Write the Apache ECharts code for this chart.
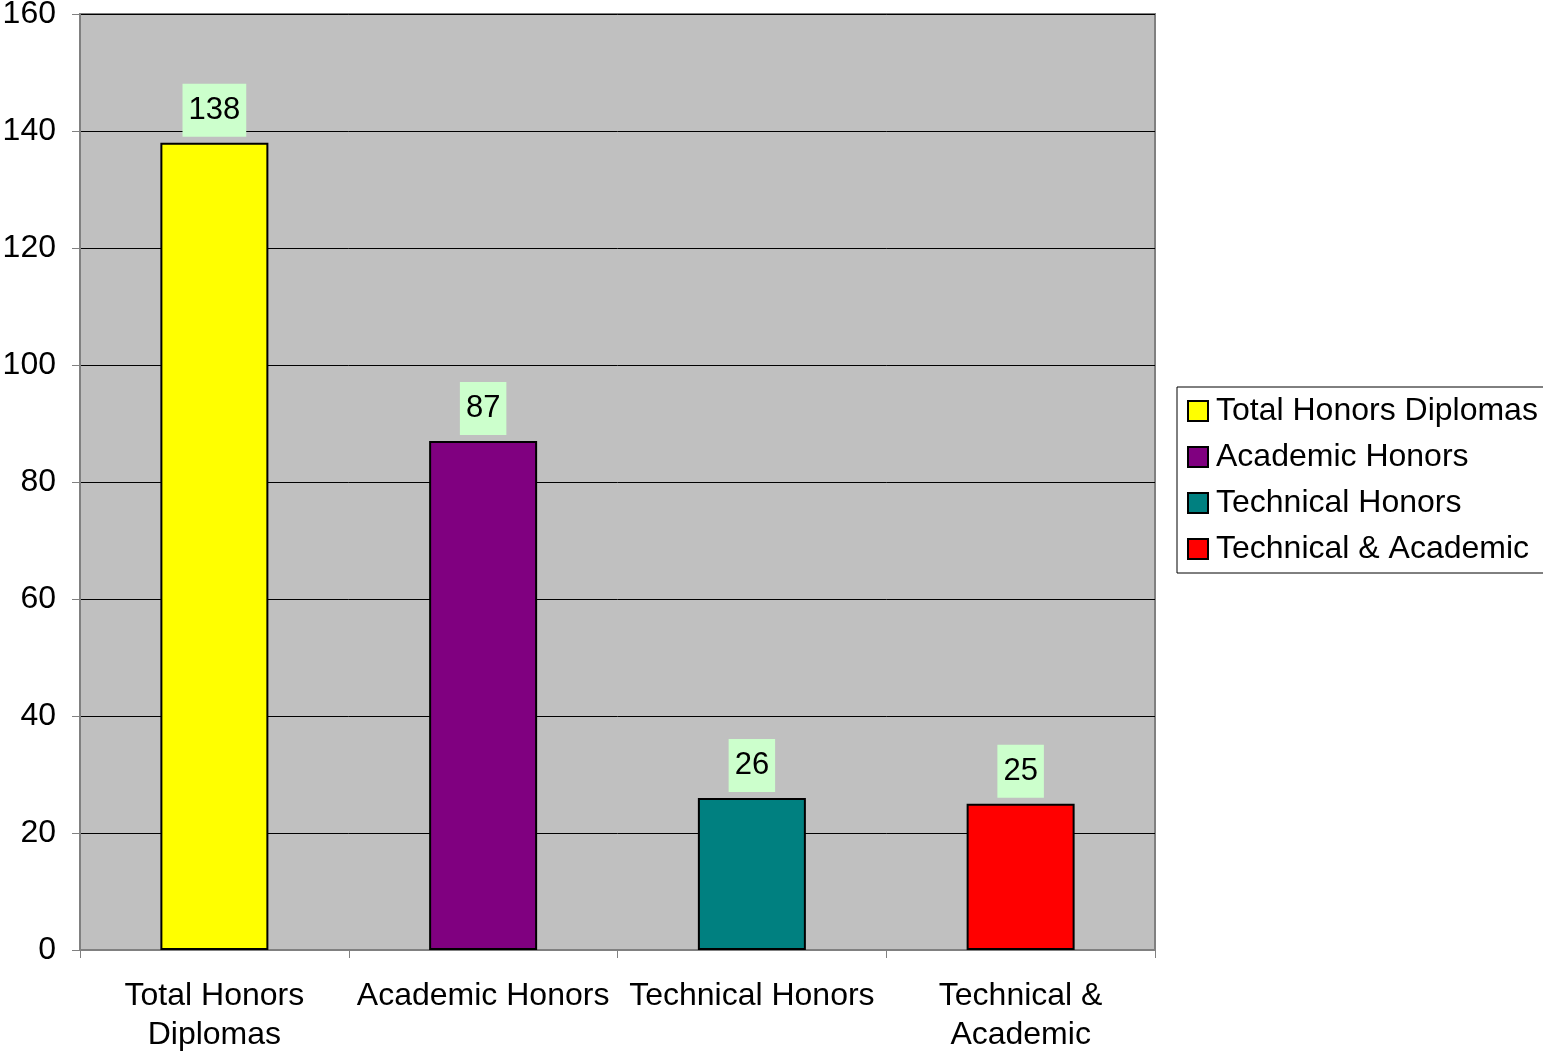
<!DOCTYPE html>
<html>
<head>
<meta charset="utf-8">
<title>Honors Diplomas</title>
<script src="https://cdn.jsdelivr.net/npm/echarts@6/dist/echarts.min.js"></script>
<style>
  html, body { margin: 0; padding: 0; background: #ffffff; overflow: hidden; }
  #chart { width: 1543px; height: 1055px; }
</style>
</head>
<body>
<div id="chart"></div>
<script>
// Categories along the x axis
const categories = ['Total Honors\nDiplomas', 'Academic Honors', 'Technical Honors', 'Technical &\nAcademic'];
// Legend names, one per bar
const seriesNames = ['Total Honors Diplomas', 'Academic Honors', 'Technical Honors', 'Technical & Academic'];
// Diploma counts
const values = [138, 87, 26, 25];
// Bar fills
const colors = ['#FFFF00', '#800080', '#008080', '#FF0000'];
// Y axis range
const yMin = 0, yMax = 160, yStep = 20;

const FONT = '"Liberation Sans", Arial, sans-serif';

const series = seriesNames.map((name, i) => ({
  name: name,
  type: 'bar',
  barWidth: 108,
  barGap: '-100%',
  data: categories.map((c, j) => (j === i ? values[i] : '-')),
  itemStyle: { color: colors[i], borderColor: '#000', borderWidth: 2 },
  label: {
    show: true,
    position: 'top',
    distance: 6,
    color: '#000',
    fontFamily: FONT,
    fontSize: 31,
    lineHeight: 33,
    backgroundColor: '#CCFFCC',
    padding: [10, 6, 10, 6]
  },
  emphasis: { disabled: true }
}));

const chart = echarts.init(document.getElementById('chart'));
chart.setOption({
  animation: false,
  textStyle: { fontFamily: FONT },
  grid: {
    left: 80, top: 14, width: 1075, height: 936,
    outerBoundsMode: 'none', containLabel: false,
    show: true, backgroundColor: '#C0C0C0', borderColor: '#808080', borderWidth: 2
  },
  legend: {
    orient: 'vertical',
    left: 1177, top: 387,
    padding: [8, 40, 8, 10],
    borderColor: '#000', borderWidth: 1,
    backgroundColor: '#fff',
    itemWidth: 20, itemHeight: 20, itemGap: 14,
    icon: 'rect',
    itemStyle: { borderColor: '#000', borderWidth: 2 },
    textStyle: { fontSize: 32, lineHeight: 32, color: '#000', fontFamily: FONT, padding: [0, 0, 0, 3] },
    data: seriesNames
  },
  xAxis: {
    type: 'category',
    data: categories,
    axisLine: { lineStyle: { color: '#808080', width: 2 } },
    axisTick: { show: true, length: 8, lineStyle: { color: '#808080' } },
    axisLabel: { fontSize: 32, color: '#000', margin: 27, lineHeight: 39, interval: 0, fontFamily: FONT }
  },
  yAxis: {
    type: 'value',
    min: yMin, max: yMax, interval: yStep,
    axisLine: { show: true, lineStyle: { color: '#808080', width: 2 } },
    axisTick: { show: true, length: 8, lineStyle: { color: '#808080' } },
    axisLabel: { fontSize: 32, color: '#000', margin: 24, fontFamily: FONT },
    splitLine: { show: true, lineStyle: { color: '#000', width: 1 } }
  },
  series: series
});
</script>
</body>
</html>
